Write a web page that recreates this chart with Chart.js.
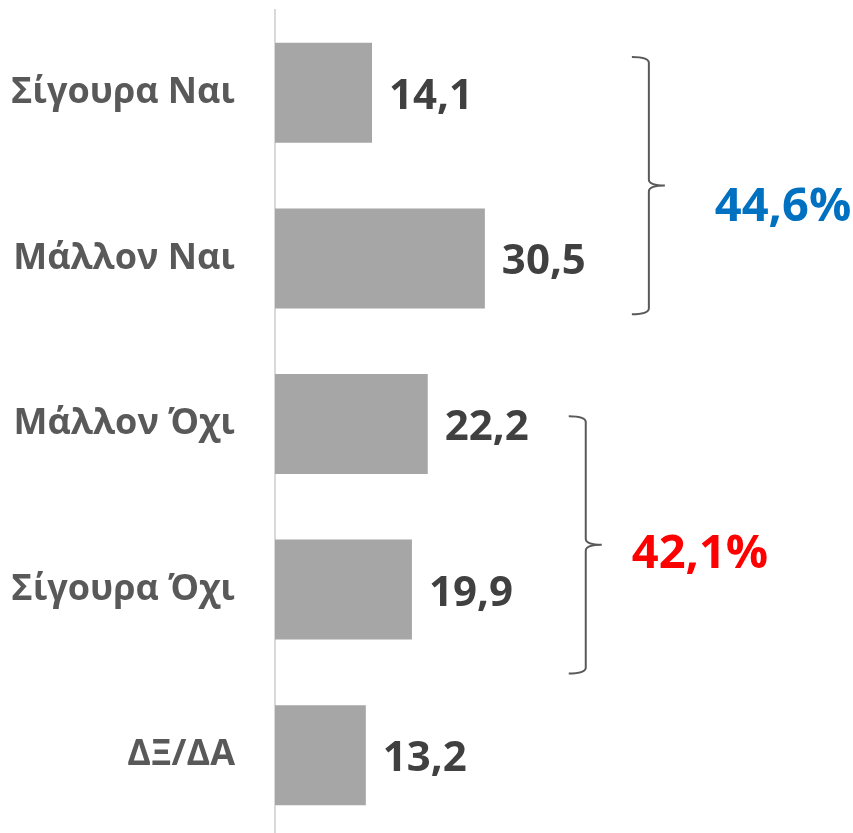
<!DOCTYPE html>
<html>
<head>
<meta charset="utf-8">
<script src="https://cdn.jsdelivr.net/npm/chart.js@4.4.1/dist/chart.umd.min.js"></script>
<style>
  html, body { margin: 0; padding: 0; background: #fff; overflow: hidden; }
  #wrap { width: 853px; height: 838px; }
</style>
</head>
<body>
<div id="wrap"><canvas id="grafico" width="853" height="838"></canvas></div>
<script>
// dados
const categorias = ['Σίγουρα Ναι', 'Μάλλον Ναι', 'Μάλλον Όχι', 'Σίγουρα Όχι', 'ΔΞ/ΔΑ'];
const valores = [14.1, 30.5, 22.2, 19.9, 13.2];
// grupos das chaves (indices das categorias)
const grupoInicio = [0, 2];
const grupoFim = [1, 3];
const grupoCores = ['#0070C0', '#FF0000'];

function fmt(v) {
    return v.toFixed(1).replace('.', ',');
}

const rotulosPlugin = {
    id: 'rotulos',
    afterDatasetsDraw(chart) {
        const ctx = chart.ctx;
        const meta = chart.getDatasetMeta(0);
        ctx.save();
        ctx.font = 'bold 42px "Open Sans"';
        ctx.fillStyle = '#404040';
        ctx.textAlign = 'left';
        ctx.textBaseline = 'middle';
        meta.data.forEach((bar, i) => {
            ctx.fillText(fmt(valores[i]), bar.x + 17, bar.y + 4);
        });
        ctx.restore();
    }
};

const chavesPlugin = {
    id: 'chaves',
    afterDatasetsDraw(chart, args, opts) {
        const ctx = chart.ctx;
        const x = chart.scales.x;
        const y = chart.scales.y;
        const passo = y.getPixelForValue(1) - y.getPixelForValue(0);
        ctx.save();
        for (let g = 0; g < grupoInicio.length; g++) {
            const ajuste = opts.ajustes[g];
            const fatia = valores.slice(grupoInicio[g], grupoFim[g] + 1);
            const maior = Math.max(...fatia);
            const total = fatia.reduce((a, b) => a + b, 0);
            const bx = x.getPixelForValue(maior) + ajuste.dx;
            const meio = (y.getPixelForValue(grupoInicio[g]) + y.getPixelForValue(grupoFim[g])) / 2 + ajuste.dy;
            const metade = passo * 0.777;
            const topo = meio - metade;
            const base = meio + metade;
            const r = 6;

            ctx.strokeStyle = '#595959';
            ctx.lineWidth = 2;
            ctx.beginPath();
            ctx.moveTo(bx - 17, topo);
            ctx.quadraticCurveTo(bx, topo, bx, topo + r);
            ctx.lineTo(bx, meio - r);
            ctx.quadraticCurveTo(bx, meio, bx + 16, meio);
            ctx.quadraticCurveTo(bx, meio, bx, meio + r);
            ctx.lineTo(bx, base - r);
            ctx.quadraticCurveTo(bx, base, bx - 17, base);
            ctx.stroke();

            ctx.font = 'bold 47px "Open Sans"';
            ctx.fillStyle = grupoCores[g];
            ctx.textAlign = 'left';
            ctx.textBaseline = 'middle';
            ctx.fillText(fmt(total) + '%', bx + 16 + ajuste.lx, meio + ajuste.ly);
        }
        ctx.restore();
    }
};

const config = {
    type: 'bar',
    data: {
        labels: categorias,
        datasets: [{
            data: valores,
            backgroundColor: '#A6A6A6',
            borderWidth: 0,
            categoryPercentage: 1,
            barPercentage: 0.604
        }]
    },
    options: {
        indexAxis: 'y',
        responsive: false,
        animation: false,
        layout: { padding: { top: 10, right: 0, bottom: 0, left: 0 } },
        plugins: {
            legend: { display: false },
            tooltip: { enabled: false },
            chaves: {
                ajustes: [
                    { dx: 164, dy: 10, lx: 50, ly: 22 },
                    { dx: 158, dy: 38, lx: 30, ly: 10 }
                ]
            }
        },
        scales: {
            x: { display: false, min: 0, max: 84 },
            y: {
                afterFit(scale) {
                    scale.width = 275;
                    scale.paddingTop = 0;
                    scale.paddingBottom = 0;
                },
                grid: { drawOnChartArea: false, drawTicks: false },
                border: { display: true, color: '#D9D9D9', width: 2 },
                ticks: {
                    padding: 40,
                    color: '#595959',
                    font: { family: '"Open Sans"', size: 36, weight: 'bold' }
                }
            }
        }
    },
    plugins: [rotulosPlugin, chavesPlugin]
};

var ctx = document.getElementById('grafico').getContext('2d');
let meuGrafico = new Chart(ctx, config);
</script>
</body>
</html>
